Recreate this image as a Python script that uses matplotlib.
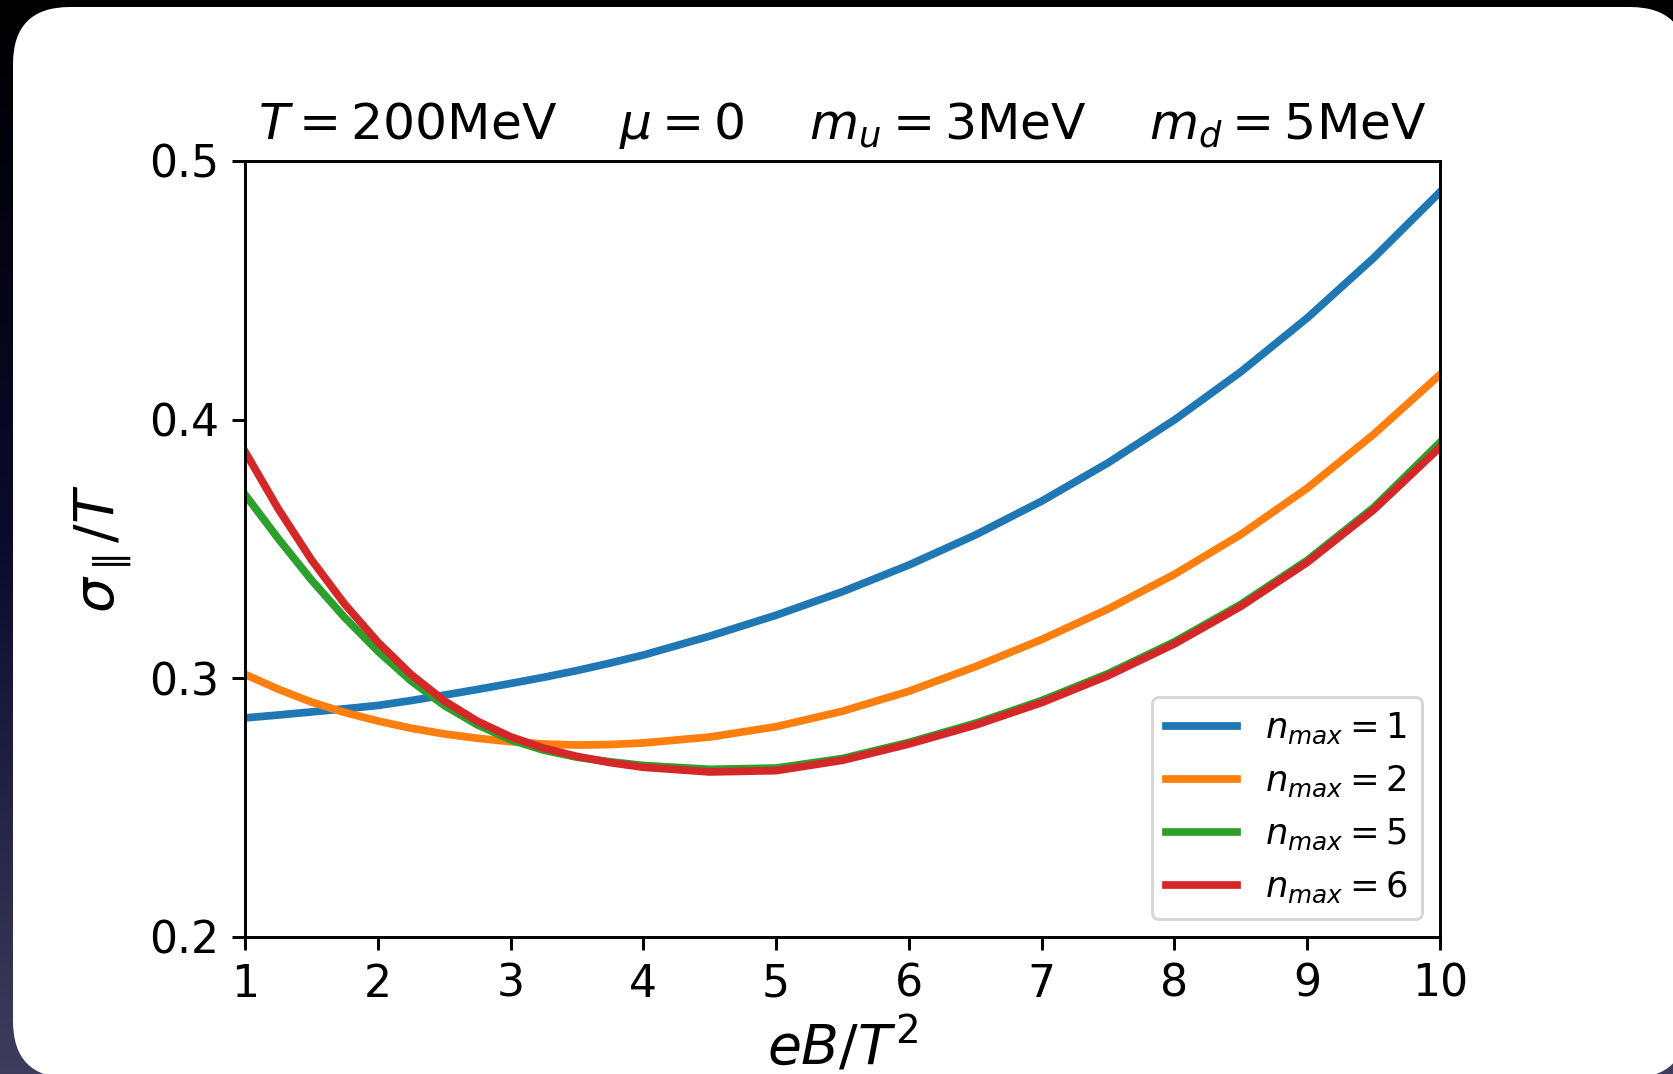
"""
Parallel conductivity vs magnetic field for different Landau level cutoffs
"""
import numpy as np
import matplotlib
matplotlib.use("Agg")
import matplotlib.pyplot as plt
from matplotlib.patches import FancyBboxPatch
from matplotlib.colors import LinearSegmentedColormap

# values (finer steps where the curves bend fast)
eB = [1.0, 1.25, 1.5, 1.75, 2.0, 2.25, 2.5, 2.75, 3.0, 3.25, 3.5, 3.75, 4.0,
      4.5, 5.0, 5.5, 6.0, 6.5, 7.0, 7.5, 8.0, 8.5, 9.0, 9.5, 10.0]
sigma_n1 = [0.2847, 0.2858, 0.2870, 0.2882, 0.2895, 0.2914, 0.2935, 0.2957, 0.2980, 0.3004, 0.3030, 0.3059, 0.3090,
            0.3163, 0.3244, 0.3335, 0.3438, 0.3554, 0.3685, 0.3833, 0.3999, 0.4185, 0.4393, 0.4625, 0.4880]
sigma_n2 = [0.3015, 0.2958, 0.2908, 0.2868, 0.2835, 0.2807, 0.2785, 0.2768, 0.2755, 0.2746, 0.2742, 0.2744, 0.2750,
            0.2773, 0.2813, 0.2873, 0.2950, 0.3045, 0.3150, 0.3268, 0.3402, 0.3556, 0.3735, 0.3943, 0.4174]
sigma_n5 = [0.3710, 0.3540, 0.3380, 0.3235, 0.3105, 0.2990, 0.2895, 0.2820, 0.2762, 0.2722, 0.2695, 0.2677, 0.2663,
            0.2648, 0.2653, 0.2690, 0.2752, 0.2826, 0.2914, 0.3018, 0.3141, 0.3286, 0.3456, 0.3660, 0.3912]
sigma_n6 = [0.3876, 0.3655, 0.3458, 0.3287, 0.3140, 0.3015, 0.2913, 0.2834, 0.2774, 0.2730, 0.2698, 0.2674, 0.2656,
            0.2638, 0.2643, 0.2683, 0.2746, 0.2819, 0.2906, 0.3010, 0.3133, 0.3278, 0.3448, 0.3651, 0.3893]
labels = [r'$n_{max}=1$', r'$n_{max}=2$', r'$n_{max}=5$', r'$n_{max}=6$']
colors = ['#1f77b4', '#ff7f0e', '#2ca02c', '#d62728']

s = 2.65  # scale of the screenshot relative to normal point sizes

fig = plt.figure(figsize=(16.74, 10.74), dpi=100)

# slide background
bg = fig.add_axes([0, 0, 1, 1], zorder=-2)
bg.axis('off')
cmap = LinearSegmentedColormap.from_list('slide', [(0, '#000000'), (0.5, '#0a0a2c'), (1, '#3e3d5e')])
bg.imshow(np.linspace(0, 1, 256).reshape(-1, 1), cmap=cmap, aspect='auto')
box = FancyBboxPatch((0.13, -0.04), 16.74, 10.71, boxstyle="round,pad=0,rounding_size=0.57",
                     transform=fig.dpi_scale_trans, facecolor='white', edgecolor='none', zorder=-1)
fig.add_artist(box)

ax = fig.add_axes([0.1464, 0.1276, 0.7138, 0.7225])
for y, lab, c in zip([sigma_n1, sigma_n2, sigma_n5, sigma_n6], labels, colors):
    ax.plot(eB, y, color=c, linewidth=2.1*s, label=lab, solid_joinstyle='round')

ax.set_xlim(1, 10)
ax.set_ylim(0.2, 0.5)
ax.set_xticks(range(1, 11))
ax.set_yticks([0.2, 0.3, 0.4, 0.5])
ax.tick_params(labelsize=12*s, length=3.5*s, width=0.8*s, pad=3.5*s)
for sp in ax.spines.values():
    sp.set_linewidth(0.8*s)

ax.set_xlabel(r'$eB/T^2$', fontsize=15*s, labelpad=3*s)
ax.set_ylabel(r'$\sigma_{\parallel}/T$', fontsize=15*s, labelpad=4*s)
ax.set_title(r'$T=200$MeV    $\mu=0$    $m_u=3$MeV    $m_d=5$MeV', fontsize=13.7*s, pad=6*s)

leg = ax.legend(loc='lower right', fontsize=9.6*s)
leg.get_frame().set_linewidth(0.8*s)

plt.savefig('out.png', dpi=100)
